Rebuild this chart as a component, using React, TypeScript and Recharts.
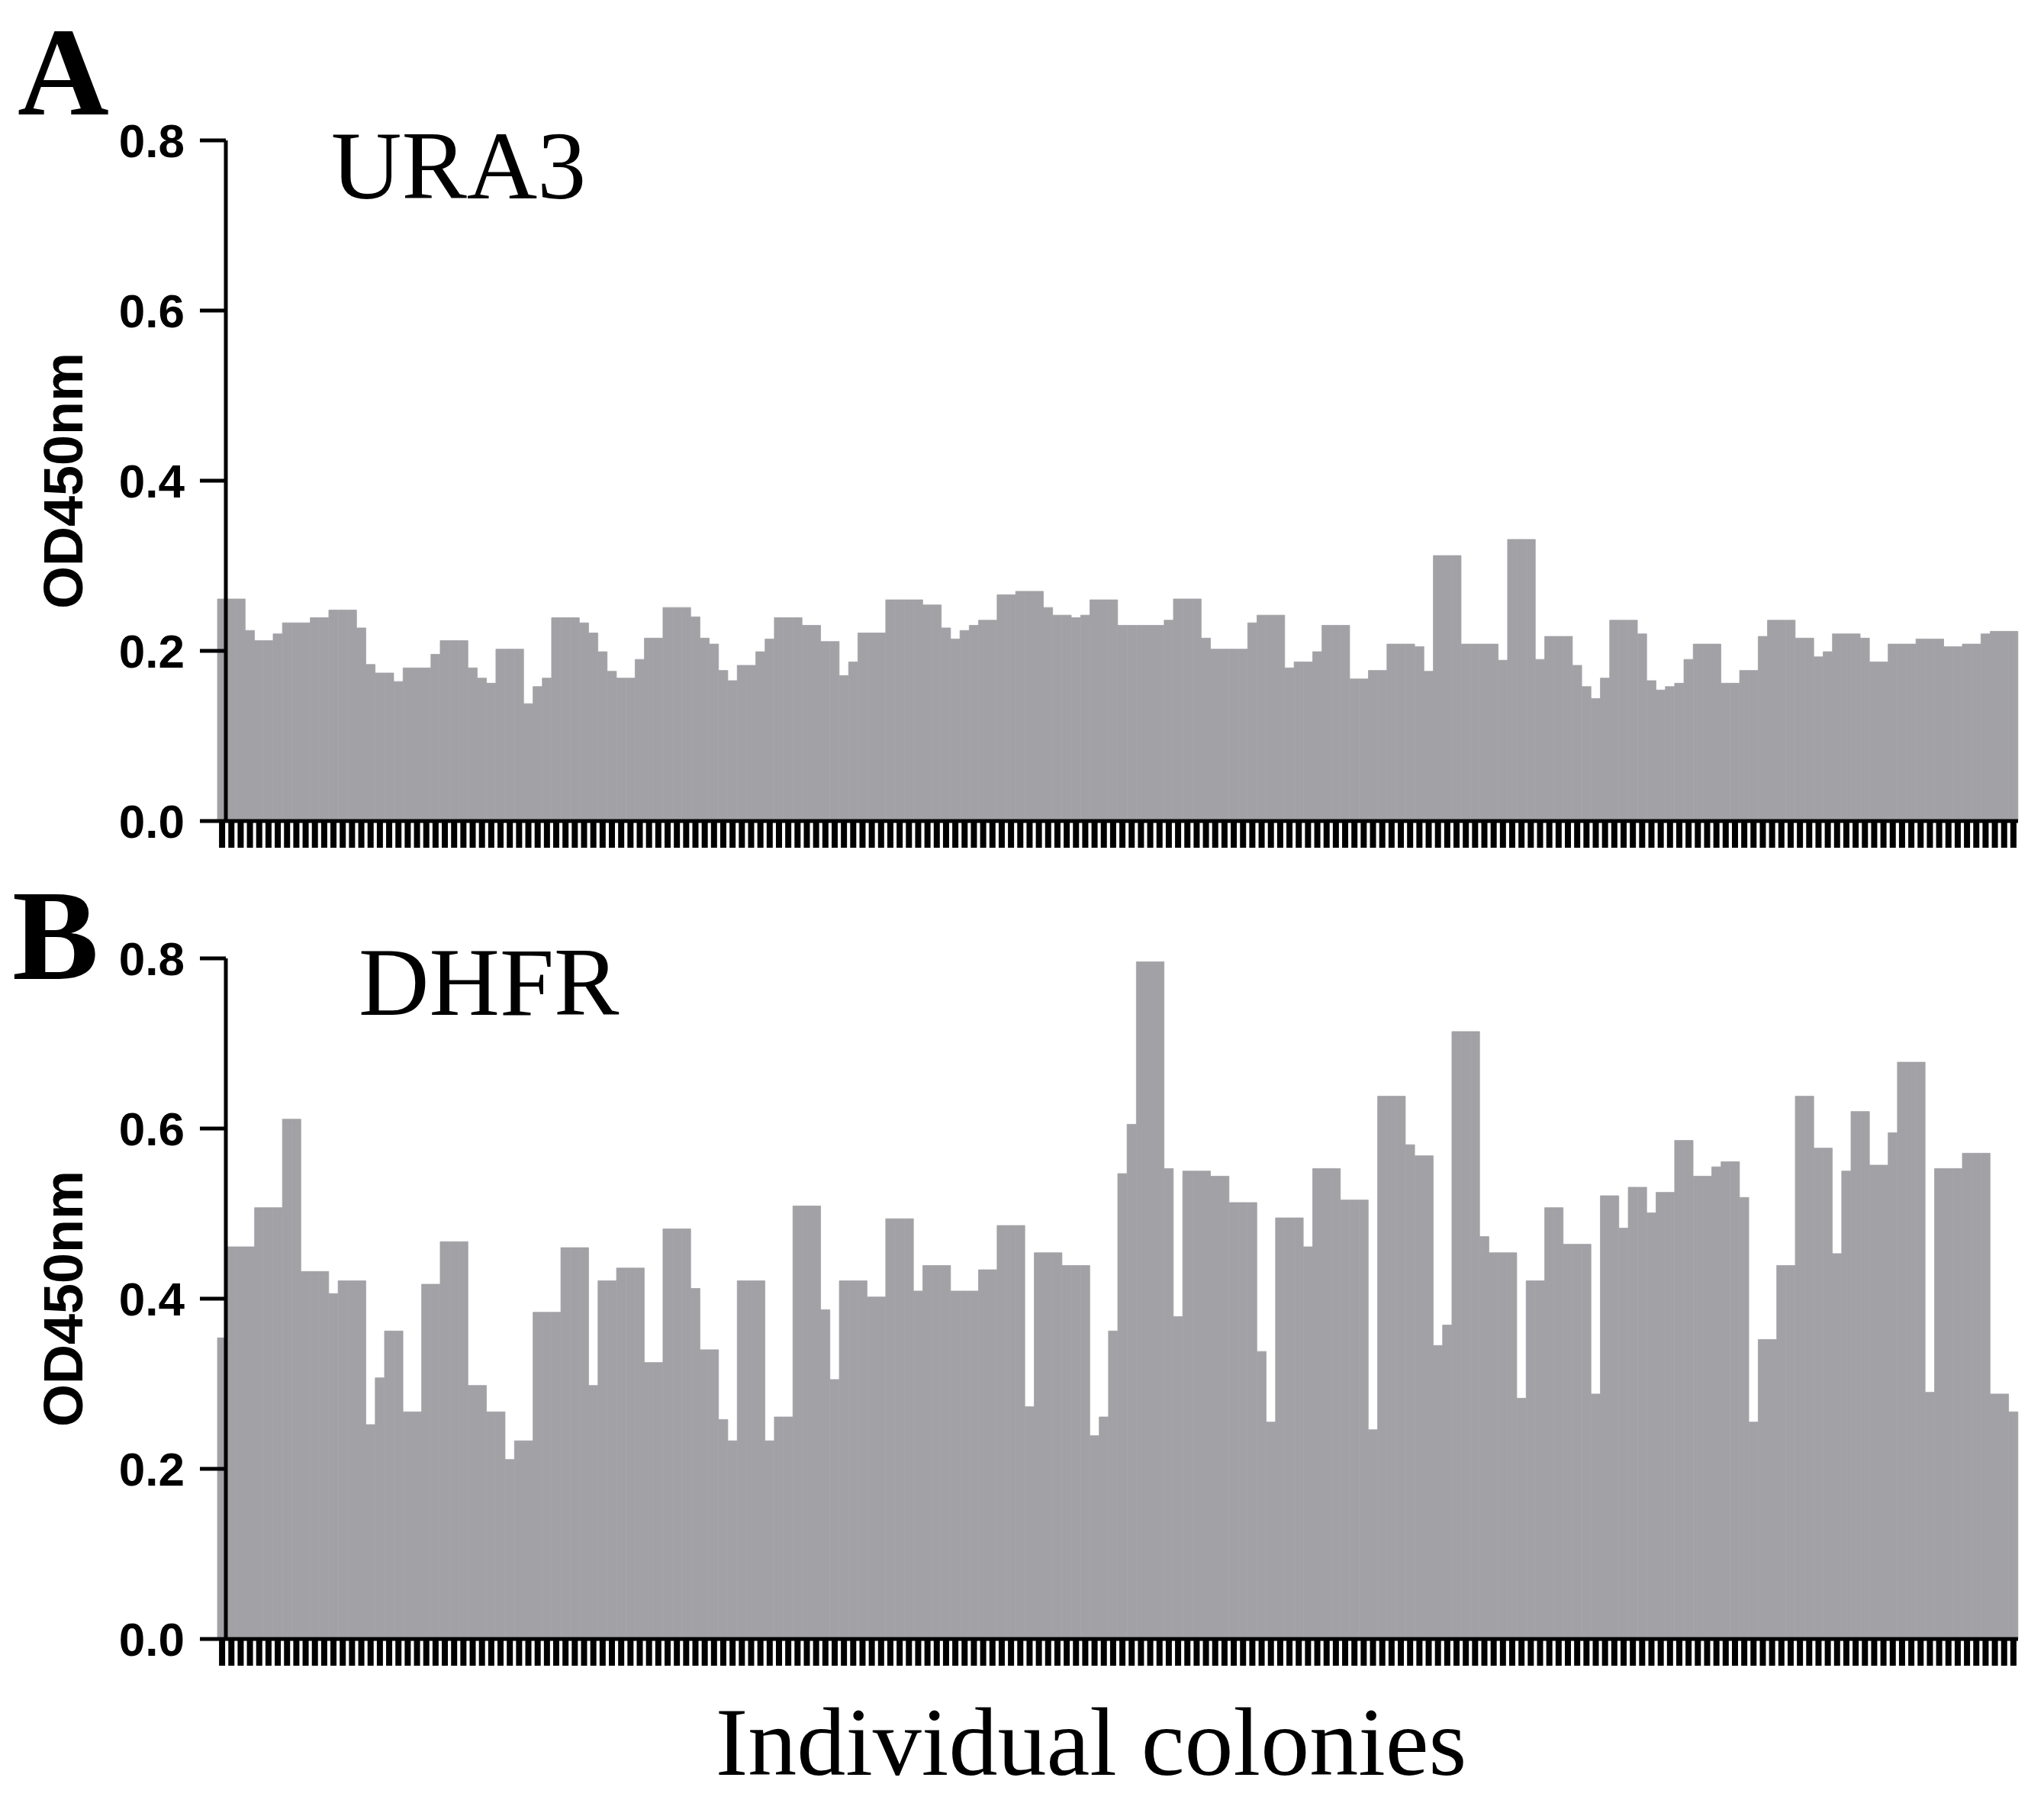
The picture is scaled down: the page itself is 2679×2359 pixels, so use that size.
import React from 'react';
import { BarChart, Bar, XAxis, YAxis } from 'recharts';

// Colony identifiers (x categories, no visible labels)
const colonyIds: string[] = Array.from({ length: 194 }, (_, i) => `C${i + 1}`);

// Y axis ticks (OD450nm)
const yTicks = [0, 0.2, 0.4, 0.6, 0.8];

// Panel A: URA3 reporter
const ura3Values = [
  0.261, 0.261, 0.261, 0.224, 0.212, 0.212, 0.220, 0.233, 0.233, 0.233,
  0.239, 0.239, 0.248, 0.248, 0.248, 0.227, 0.184, 0.174, 0.174, 0.164,
  0.180, 0.180, 0.180, 0.196, 0.212, 0.212, 0.212, 0.180, 0.168, 0.162,
  0.202, 0.202, 0.202, 0.138, 0.158, 0.168, 0.239, 0.239, 0.239, 0.233,
  0.221, 0.199, 0.176, 0.168, 0.168, 0.190, 0.215, 0.215, 0.251, 0.251,
  0.251, 0.240, 0.215, 0.208, 0.177, 0.165, 0.183, 0.183, 0.199, 0.214,
  0.239, 0.239, 0.239, 0.230, 0.230, 0.211, 0.211, 0.171, 0.187, 0.221,
  0.221, 0.221, 0.260, 0.260, 0.260, 0.260, 0.254, 0.254, 0.227, 0.214,
  0.224, 0.230, 0.236, 0.236, 0.266, 0.266, 0.270, 0.270, 0.270, 0.251,
  0.242, 0.242, 0.239, 0.242, 0.260, 0.260, 0.260, 0.230, 0.230, 0.230,
  0.230, 0.230, 0.236, 0.261, 0.261, 0.261, 0.215, 0.202, 0.202, 0.202,
  0.202, 0.233, 0.242, 0.242, 0.242, 0.180, 0.187, 0.187, 0.199, 0.230,
  0.230, 0.230, 0.167, 0.167, 0.177, 0.177, 0.208, 0.208, 0.208, 0.205,
  0.176, 0.312, 0.312, 0.312, 0.208, 0.208, 0.208, 0.208, 0.189, 0.331,
  0.331, 0.331, 0.190, 0.217, 0.217, 0.217, 0.183, 0.158, 0.144, 0.168,
  0.236, 0.236, 0.236, 0.220, 0.165, 0.154, 0.158, 0.162, 0.190, 0.208,
  0.208, 0.208, 0.162, 0.162, 0.177, 0.177, 0.217, 0.236, 0.236, 0.236,
  0.215, 0.215, 0.193, 0.199, 0.220, 0.220, 0.220, 0.215, 0.187, 0.187,
  0.208, 0.208, 0.208, 0.214, 0.214, 0.214, 0.205, 0.205, 0.208, 0.208,
  0.220, 0.223, 0.223, 0.223,
];

// Panel B: DHFR reporter
const dhfrValues = [
  0.354, 0.461, 0.461, 0.461, 0.507, 0.507, 0.507, 0.611, 0.611, 0.432,
  0.432, 0.432, 0.406, 0.421, 0.421, 0.421, 0.252, 0.307, 0.362, 0.362,
  0.267, 0.267, 0.417, 0.417, 0.467, 0.467, 0.467, 0.298, 0.298, 0.267,
  0.267, 0.211, 0.233, 0.233, 0.384, 0.384, 0.384, 0.460, 0.460, 0.460,
  0.298, 0.421, 0.421, 0.436, 0.436, 0.436, 0.325, 0.325, 0.482, 0.482,
  0.482, 0.412, 0.340, 0.340, 0.258, 0.233, 0.421, 0.421, 0.421, 0.233,
  0.261, 0.261, 0.509, 0.509, 0.509, 0.387, 0.305, 0.421, 0.421, 0.421,
  0.402, 0.402, 0.494, 0.494, 0.494, 0.409, 0.439, 0.439, 0.439, 0.409,
  0.409, 0.409, 0.434, 0.434, 0.486, 0.486, 0.486, 0.273, 0.454, 0.454,
  0.454, 0.439, 0.439, 0.439, 0.239, 0.261, 0.362, 0.547, 0.605, 0.796,
  0.796, 0.796, 0.553, 0.379, 0.550, 0.550, 0.550, 0.544, 0.544, 0.513,
  0.513, 0.513, 0.338, 0.255, 0.495, 0.495, 0.495, 0.461, 0.553, 0.553,
  0.553, 0.516, 0.516, 0.516, 0.246, 0.638, 0.638, 0.638, 0.581, 0.568,
  0.568, 0.345, 0.369, 0.714, 0.714, 0.714, 0.473, 0.454, 0.454, 0.454,
  0.283, 0.421, 0.421, 0.507, 0.507, 0.464, 0.464, 0.464, 0.288, 0.521,
  0.521, 0.483, 0.531, 0.531, 0.501, 0.525, 0.525, 0.586, 0.586, 0.544,
  0.544, 0.555, 0.561, 0.561, 0.519, 0.255, 0.352, 0.352, 0.439, 0.439,
  0.638, 0.638, 0.577, 0.577, 0.453, 0.550, 0.620, 0.620, 0.557, 0.557,
  0.595, 0.678, 0.678, 0.678, 0.290, 0.553, 0.553, 0.553, 0.571, 0.571,
  0.571, 0.288, 0.288, 0.267,
];

const ura3Data = colonyIds.map((id, i) => ({ colony: id, od: ura3Values[i] }));
const dhfrData = colonyIds.map((id, i) => ({ colony: id, od: dhfrValues[i] }));

const BAR_FILL = '#a2a1a6';
const SANS = '"Liberation Sans", Arial, sans-serif';
const SERIF = '"Liberation Serif", "Times New Roman", serif';

// No visible x tick labels, but keep the tick marks
const EmptyTick = () => <g />;

type PanelProps = {
  data: { colony: string; od: number }[];
  top: number;
  height: number;
  marginTop: number;
  marginBottom: number;
};

function Panel({ data, top, height, marginTop, marginBottom }: PanelProps) {
  return (
    <div style={{ position: 'absolute', left: 0, top, width: 2679, height }}>
      <BarChart
        width={2679}
        height={height}
        data={data}
        margin={{ top: marginTop, right: 34, bottom: marginBottom, left: 0 }}
        barCategoryGap={0}
        barGap={0}
      >
        <Bar
          dataKey="od"
          fill={BAR_FILL}
          stroke={BAR_FILL}
          strokeWidth={0.8}
          isAnimationActive={false}
        />
        <XAxis
          dataKey="colony"
          interval={0}
          tick={EmptyTick}
          tickSize={35}
          tickMargin={0}
          tickLine={{ stroke: '#000', strokeWidth: 8 }}
          axisLine={{ stroke: '#000', strokeWidth: 5 }}
          height={40}
          padding={{ left: -11, right: 0 }}
        />
        <YAxis
          width={296}
          domain={[0, 0.8]}
          ticks={yTicks}
          interval={0}
          tickFormatter={(v: number) => v.toFixed(1)}
          tickSize={34}
          tickMargin={20}
          axisLine={{ stroke: '#000', strokeWidth: 5 }}
          tickLine={{ stroke: '#000', strokeWidth: 5 }}
          tick={{ fill: '#000', fontSize: 62, fontWeight: 'bold', fontFamily: SANS }}
        />
      </BarChart>
    </div>
  );
}

export default function App() {
  return (
    <div style={{ position: 'absolute', left: 0, top: 0, width: 2679, height: 2359, background: '#fff' }}>
      <Panel data={ura3Data} top={0} height={1200} marginTop={184} marginBottom={84} />
      <Panel data={dhfrData} top={1100} height={1200} marginTop={156} marginBottom={112} />
      <svg
        width={2679}
        height={2359}
        style={{ position: 'absolute', left: 0, top: 0, pointerEvents: 'none' }}
      >
        <text x={23} y={150} fontFamily={SERIF} fontWeight="bold" fontSize={166} fill="#000">A</text>
        <text x={16} y={1283} fontFamily={SERIF} fontWeight="bold" fontSize={170} fill="#000">B</text>
        <text x={434} y={260} fontFamily={SERIF} fontSize={128} fill="#000">URA3</text>
        <text x={470} y={1330} fontFamily={SERIF} fontSize={128} fill="#000">DHFR</text>
        <text
          transform="translate(108, 630) rotate(-90)"
          textAnchor="middle"
          fontFamily={SANS}
          fontWeight="bold"
          fontSize={72}
          fill="#000"
        >
          OD450nm
        </text>
        <text
          transform="translate(108, 1702) rotate(-90)"
          textAnchor="middle"
          fontFamily={SANS}
          fontWeight="bold"
          fontSize={72}
          fill="#000"
        >
          OD450nm
        </text>
        <text x={1430} y={2326} textAnchor="middle" fontFamily={SERIF} fontSize={128} fill="#000">
          Individual colonies
        </text>
      </svg>
    </div>
  );
}
